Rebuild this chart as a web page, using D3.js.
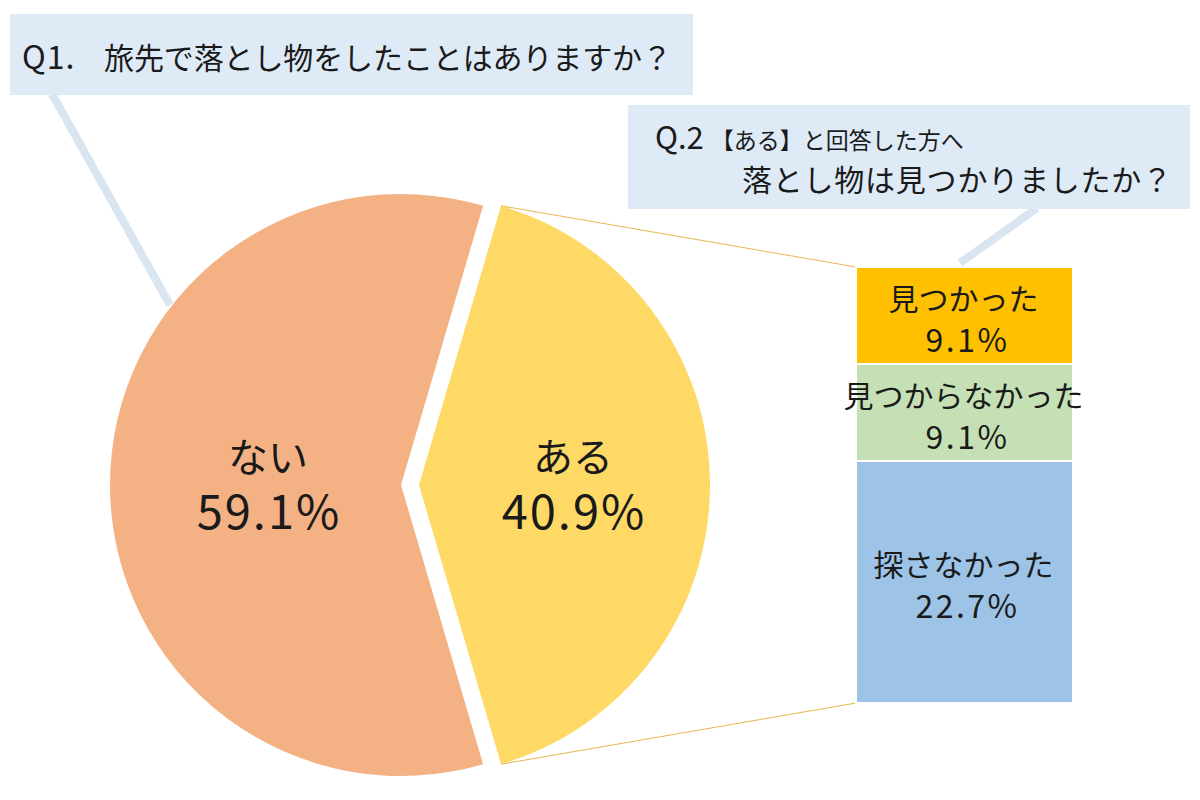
<!DOCTYPE html>
<html><head><meta charset="utf-8">
<script src="https://cdn.jsdelivr.net/npm/d3@7"></script>
<style>
html,body{margin:0;padding:0;background:#fff;}
svg{display:block;font-family:"Noto Sans CJK JP","Noto Sans",sans-serif;}
</style></head>
<body>
<svg id="chart" width="1200" height="800"></svg>
<script>
// ---- data ----
const q1Categories = ["ある", "ない"];
const q1Values = [40.9, 59.1];
const q1Colors = ["#FFD966", "#F4B183"];
const q2Categories = ["見つかった", "見つからなかった", "探さなかった"];
const q2Values = [9.1, 9.1, 22.7];
const q2Colors = ["#FFC000", "#C5E0B4", "#9DC3E6"];
const q1TitleA = "Q1.";
const q1TitleB = "旅先で落とし物をしたことはありますか？";
const q2TitleA = "Q.2";
const q2TitleB = "【ある】と回答した方へ";
const q2TitleC = "落とし物は見つかりましたか？";

const svg = d3.select("#chart");
const txt = "#1a1a1a";

// ---- callout boxes ----
const boxFill = "#DEEBF7", tailColor = "#DAE5F2";
svg.append("line").attr("x1",52).attr("y1",94).attr("x2",170).attr("y2",305)
  .attr("stroke",tailColor).attr("stroke-width",8);
svg.append("line").attr("x1",1037).attr("y1",208).attr("x2",960).attr("y2",263)
  .attr("stroke",tailColor).attr("stroke-width",8);
svg.append("rect").attr("x",10).attr("y",14).attr("width",683).attr("height",81).attr("fill",boxFill);
svg.append("rect").attr("x",628).attr("y",105).attr("width",562).attr("height",104).attr("fill",boxFill);

const t1 = svg.append("text").attr("y",69).attr("fill",txt);
t1.append("tspan").attr("x",22).attr("font-size",32).attr("letter-spacing",1).text(q1TitleA);
t1.append("tspan").attr("x",104).attr("font-size",30)
  .attr("textLength",568).attr("lengthAdjust","spacing").text(q1TitleB);
const t2 = svg.append("text").attr("x",655).attr("y",149).attr("fill",txt);
t2.append("tspan").attr("font-size",31).text(q2TitleA + " ");
t2.append("tspan").attr("font-size",23).text(q2TitleB);
svg.append("text").attr("x",742).attr("y",191).attr("font-size",30).attr("fill",txt)
  .attr("textLength",430).attr("lengthAdjust","spacing").text(q2TitleC);

// ---- pie ----
const cx = 401, cy = 485, R = 291, explode = 18;
const share = q1Values[0] / d3.sum(q1Values) * 2 * Math.PI;
const pie = d3.pie().sort(null).value(d => d)
  .startAngle(Math.PI/2 - share/2).endAngle(Math.PI/2 - share/2 + 2*Math.PI);
const arcs = pie(q1Values);
const arc = d3.arc().innerRadius(0).outerRadius(R);
const offs = arcs.map((a,i) => {
  const m = (a.startAngle + a.endAngle)/2;
  const e = i === 0 ? explode : 0;
  return [cx + e*Math.sin(m), cy - e*Math.cos(m)];
});
const pg = svg.append("g");
pg.selectAll("path").data(arcs).join("path")
  .attr("transform",(d,i)=>`translate(${offs[i][0]},${offs[i][1]})`)
  .attr("d",arc).attr("fill",(d,i)=>q1Colors[i]);

const labelR = [154, 133];
arcs.forEach((a,i) => {
  const m = (a.startAngle + a.endAngle)/2;
  const x = offs[i][0] + labelR[i]*Math.sin(m);
  const y = offs[i][1] - labelR[i]*Math.cos(m);
  svg.append("text").attr("x",x).attr("y",y-13).attr("text-anchor","middle")
    .attr("font-size",40).attr("fill",txt).text(q1Categories[i]);
  svg.append("text").attr("x",x+1).attr("y",y+44).attr("text-anchor","middle")
    .attr("font-size",47).attr("letter-spacing",2).attr("fill",txt).text(q1Values[i].toFixed(1)+"%");
});

// ---- stacked bar ----
const bx = 856, bw = 217;
const y = d3.scaleLinear().domain([0, d3.sum(q2Values)]).range([267, 703]);
let cum = 0;
const segs = q2Values.map((v,i)=>{ const s={i, v, y0:cum, y1:cum+v}; cum+=v; return s; });

// connector lines
const a0 = arcs[0];
const tip = offs[0];
const pTop = [tip[0] + R*Math.sin(a0.startAngle), tip[1] - R*Math.cos(a0.startAngle)];
const pBot = [tip[0] + R*Math.sin(a0.endAngle), tip[1] - R*Math.cos(a0.endAngle)];
svg.append("line").attr("x1",pTop[0]).attr("y1",pTop[1]).attr("x2",bx).attr("y2",y(0))
  .attr("stroke","#E6B84A").attr("stroke-width",1);
svg.append("line").attr("x1",pBot[0]).attr("y1",pBot[1]).attr("x2",bx).attr("y2",y(cum))
  .attr("stroke","#E6B84A").attr("stroke-width",1);

svg.append("g").selectAll("rect").data(segs).join("rect")
  .attr("x",bx).attr("width",bw)
  .attr("y",d=>y(d.y0)).attr("height",d=>y(d.y1)-y(d.y0))
  .attr("fill",d=>q2Colors[d.i]).attr("stroke","#fff").attr("stroke-width",2);

segs.forEach(d=>{
  const mid = (y(d.y0)+y(d.y1))/2 + 2;
  svg.append("text").attr("x",bx+bw/2-1).attr("y",mid-8).attr("text-anchor","middle")
    .attr("font-size",30).attr("fill",txt).text(q2Categories[d.i]);
  svg.append("text").attr("x",bx+bw/2+3).attr("y",mid+34).attr("text-anchor","middle")
    .attr("font-size",32).attr("letter-spacing",2.5).attr("fill",txt).text(d.v.toFixed(1)+"%");
});
</script>
</body></html>
